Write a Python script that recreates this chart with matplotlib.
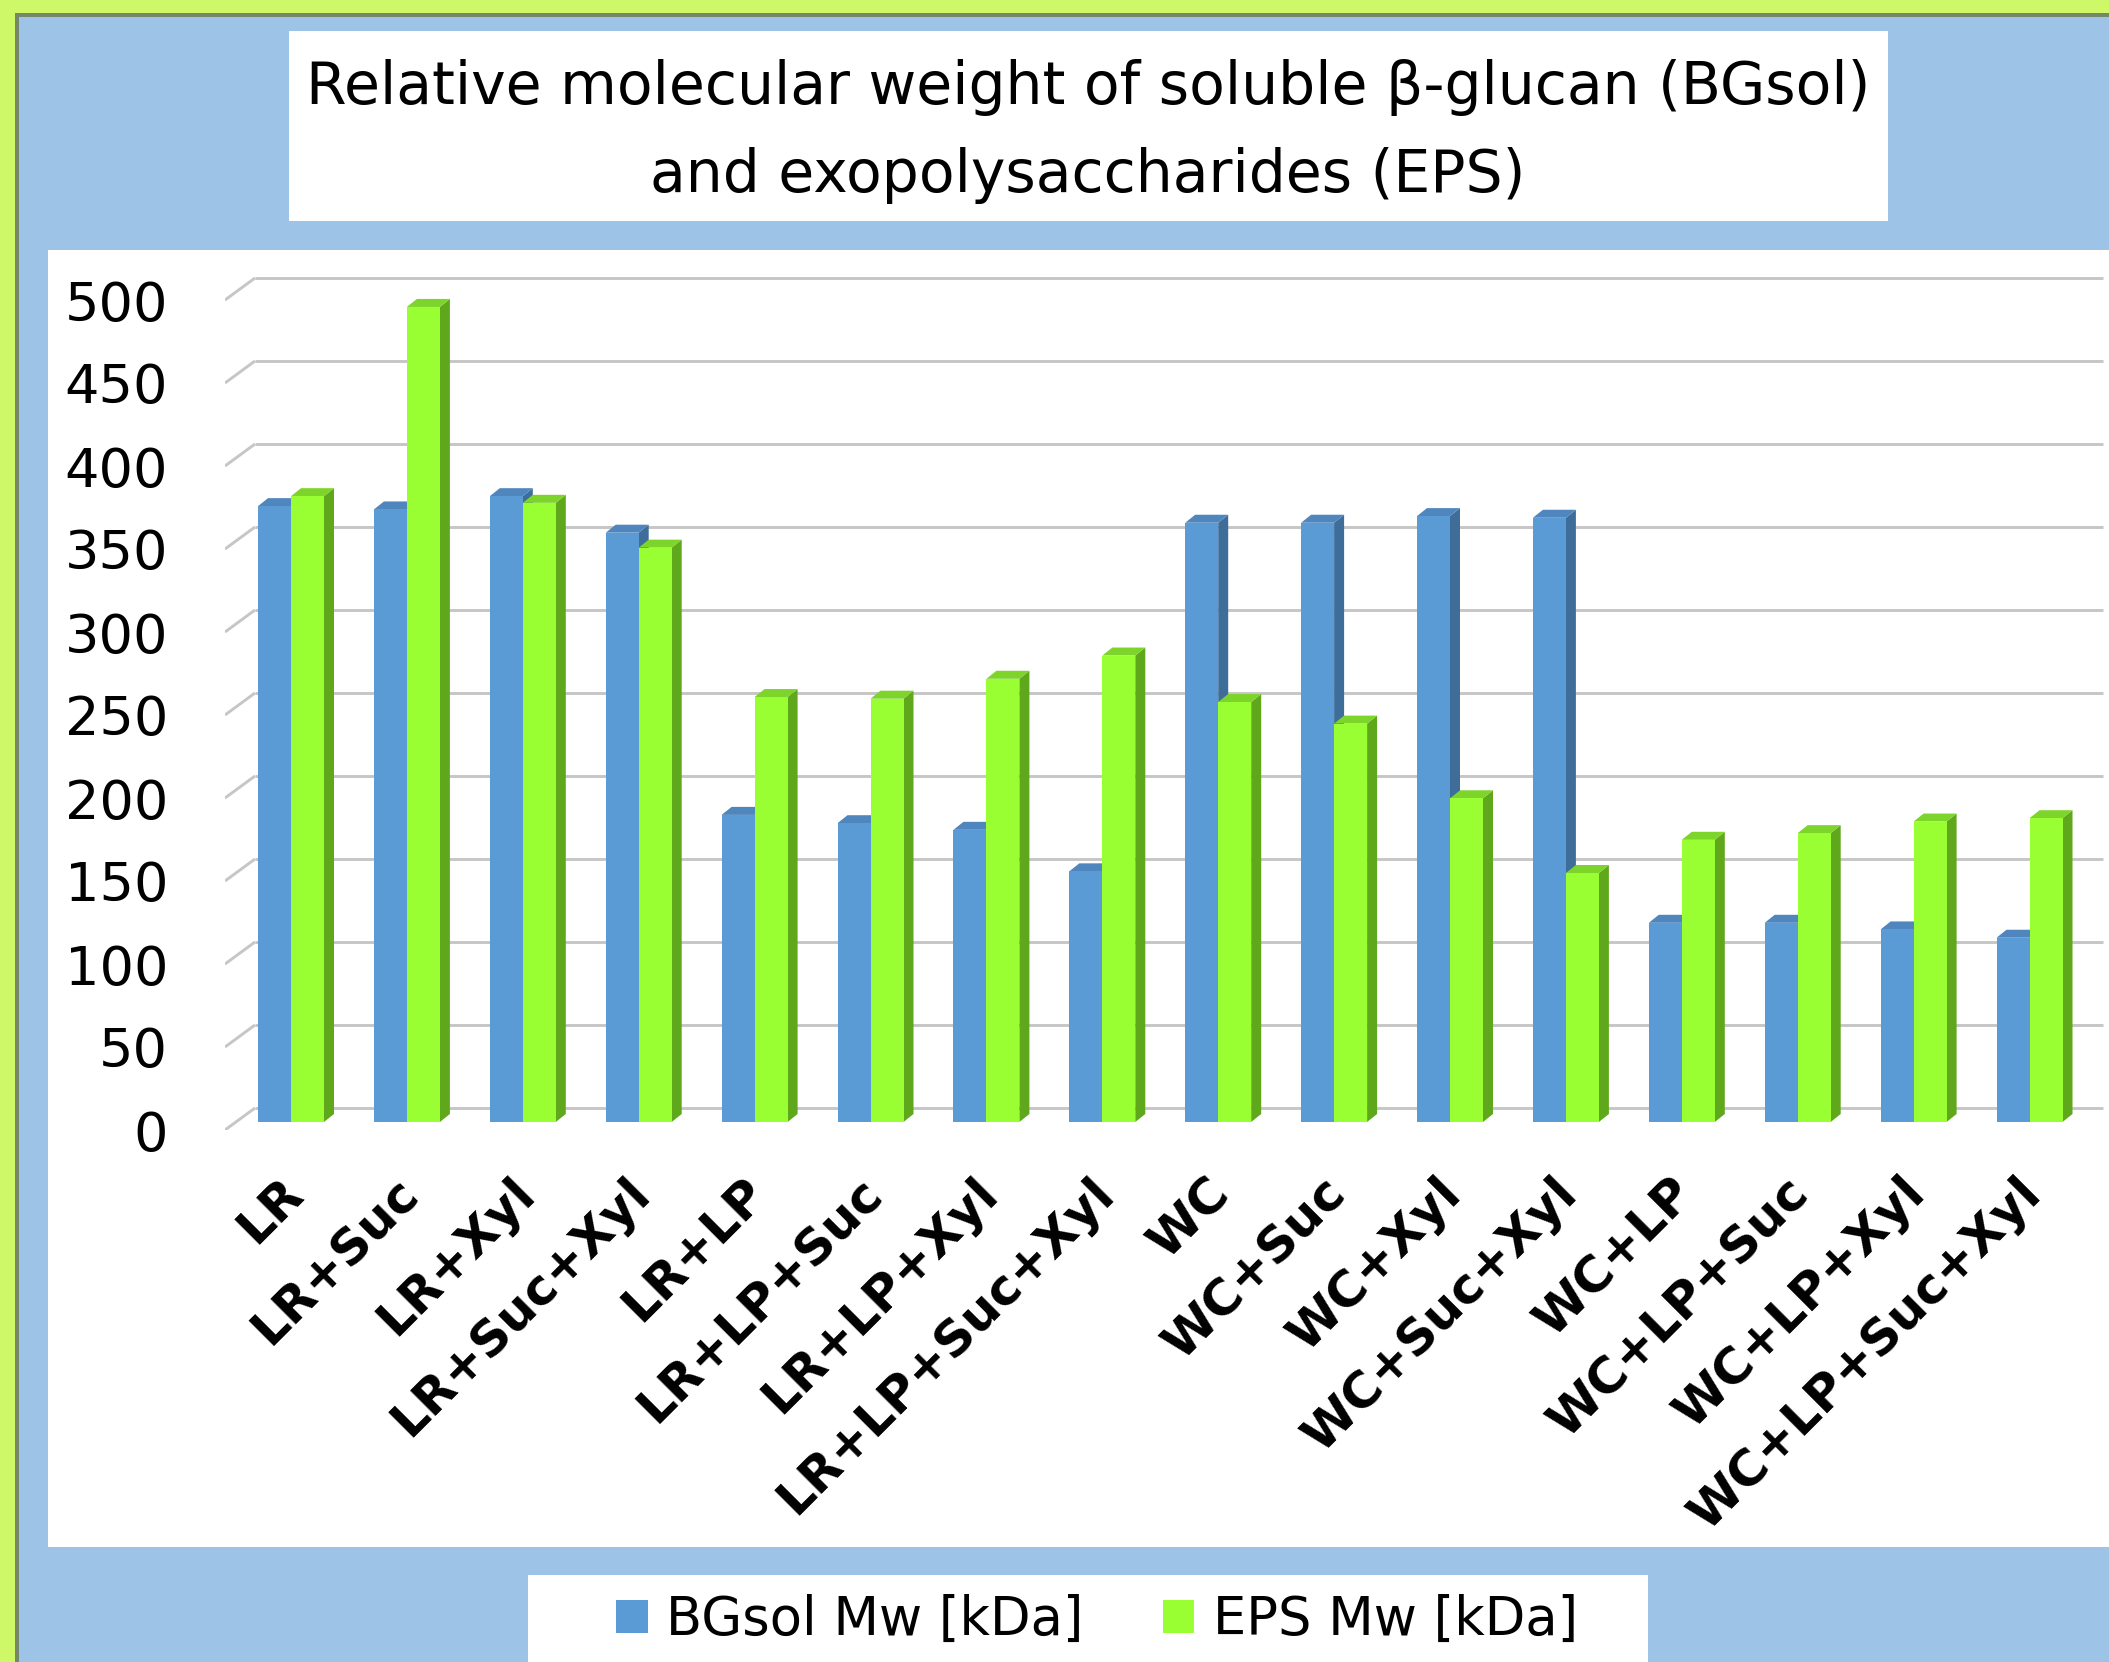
import numpy as np
import matplotlib
matplotlib.use("Agg")
import matplotlib.pyplot as plt
from matplotlib.patches import Rectangle, Polygon
import matplotlib.transforms as mtransforms

# ---- data -------------------------------------------------------------
categories = ['LR', 'LR+Suc', 'LR+Xyl', 'LR+Suc+Xyl', 'LR+LP', 'LR+LP+Suc',
              'LR+LP+Xyl', 'LR+LP+Suc+Xyl', 'WC', 'WC+Suc', 'WC+Xyl',
              'WC+Suc+Xyl', 'WC+LP', 'WC+LP+Suc', 'WC+LP+Xyl', 'WC+LP+Suc+Xyl']
bgsol_mw = [371, 369, 377, 355, 185, 180, 176, 151,
            361, 361, 365, 364, 120, 120, 116, 111]
eps_mw = [377, 491, 373, 346, 256, 255, 267, 281,
          253, 240, 195, 150, 170, 174, 181, 183]
series_labels = ['BGsol Mw [kDa]', 'EPS Mw [kDa]']
y_ticks = list(range(0, 501, 50))
title_lines = ['Relative molecular weight of soluble \u03b2-glucan (BGsol)',
               'and exopolysaccharides (EPS)']

# ---- page geometry (pixels, origin top-left) ---------------------------
W, H, DPI = 2109, 1662, 100
plt.rcParams['font.family'] = ['DejaVu Sans']

BG_BLUE = '#9DC3E6'
FRAME_GREEN = '#CFF868'
BLUE_FRONT, BLUE_SIDE, BLUE_TOP = '#5B9BD5', '#3E6D99', '#4F86BE'
GREEN_FRONT, GREEN_SIDE, GREEN_TOP = '#99FF33', '#5FA81C', '#7DD42A'
GRID = '#C6C6C6'

fig = plt.figure(figsize=(W / DPI, H / DPI), dpi=DPI)
fig.patch.set_facecolor(BG_BLUE)


def fx(px):
    return px / W


def fy(py):
    return 1 - py / H


def fig_rect(x0, y0, x1, y1, color, z=0):
    fig.add_artist(Rectangle((fx(x0), fy(y1)), fx(x1) - fx(x0), fy(y0) - fy(y1),
                             transform=fig.transFigure, facecolor=color,
                             edgecolor='none', zorder=z))


# slide frame: green band with a dark rule on the top and left edges
fig_rect(0, 0, W, 13, FRAME_GREEN)
fig_rect(0, 0, 15, H, FRAME_GREEN)
fig_rect(15, 13, W, 17, '#76866A')
fig_rect(15, 13, 19, H, '#76866A')

# title box
fig_rect(289, 31, 1888, 221, 'white')
fig.text(fx(1088), fy(88), title_lines[0], ha='center', va='center',
         fontsize=42, color='black')
fig.text(fx(1088), fy(176), title_lines[1], ha='center', va='center',
         fontsize=42, color='black')

# plot area and legend boxes
fig_rect(48, 250, W, 1547, 'white')
fig_rect(528, 1575, 1648, H, 'white')

# ---- axes ---------------------------------------------------------------
AX_L, AX_R, AX_T, AX_B = 225, 2105, 262, 1130
X0_PX, STEP_PX = 291.0, 115.9          # first category centre, category pitch
ZERO_PX, PX_PER_UNIT = 1122.0, 1.66    # bar base and value scale

ax = fig.add_axes([fx(AX_L), fy(AX_B), fx(AX_R) - fx(AX_L), fy(AX_T) - fy(AX_B)])
ax.set_facecolor('none')
for s in ax.spines.values():
    s.set_visible(False)
ax.set_xlim((AX_L - X0_PX) / STEP_PX, (AX_R - X0_PX) / STEP_PX)
ax.set_ylim((ZERO_PX - AX_B) / PX_PER_UNIT, (ZERO_PX - AX_T) / PX_PER_UNIT)


def ux(px):
    return px / STEP_PX


def uy(px):
    return px / PX_PER_UNIT


# 3-D wall gridlines: back line plus short slanted floor edge
x_left = ax.get_xlim()[0]
back_dx, back_dy = ux(30), uy(14)
front_dy = uy(-8)
grid_right = (2103 - X0_PX) / STEP_PX
for t in y_ticks:
    ax.plot([x_left + back_dx, grid_right], [t + back_dy, t + back_dy],
            color=GRID, lw=2.1, solid_capstyle='butt', zorder=1)
    ax.plot([x_left, x_left + back_dx], [t + front_dy, t + back_dy],
            color=GRID, lw=2.1, solid_capstyle='butt', zorder=1)

# ---- bars ----------------------------------------------------------------
x = np.arange(len(categories))
bw = ux(33)
blue = ax.bar(x - bw / 2, bgsol_mw, bw, color=BLUE_FRONT, label=series_labels[0],
              zorder=3, linewidth=0)
green = ax.bar(x + bw / 2, eps_mw, bw, color=GREEN_FRONT, label=series_labels[1],
               zorder=5, linewidth=0)

ddx, ddy = ux(10), uy(8)


def add_depth(container, side_col, top_col, z):
    for r in container:
        x0, w, h = r.get_x(), r.get_width(), r.get_height()
        side = Polygon([(x0 + w, 0), (x0 + w + ddx, ddy), (x0 + w + ddx, h + ddy),
                        (x0 + w, h)], closed=True, facecolor=side_col,
                       edgecolor='none', zorder=z)
        top = Polygon([(x0, h), (x0 + w, h), (x0 + w + ddx, h + ddy),
                       (x0 + ddx, h + ddy)], closed=True, facecolor=top_col,
                      edgecolor='none', zorder=z)
        ax.add_patch(side)
        ax.add_patch(top)


add_depth(blue, BLUE_SIDE, BLUE_TOP, 2.9)
add_depth(green, GREEN_SIDE, GREEN_TOP, 4.9)

# ---- ticks ---------------------------------------------------------------
ax.set_yticks(y_ticks, labels=[str(t) for t in y_ticks])
ax.tick_params(axis='y', length=0, pad=41, labelsize=39, labelcolor='black')
shift_y = mtransforms.ScaledTranslation(0, -8 / DPI, fig.dpi_scale_trans)
for lbl in ax.get_yticklabels():
    lbl.set_transform(lbl.get_transform() + shift_y)

ax.set_xticks(x, labels=categories, rotation=45, ha='right', va='center',
              rotation_mode='anchor', fontweight='bold')
ax.tick_params(axis='x', length=0, pad=40, labelsize=36, labelcolor='black')
shift_x = mtransforms.ScaledTranslation(4 / DPI, 0, fig.dpi_scale_trans)
for lbl in ax.get_xticklabels():
    lbl.set_transform(lbl.get_transform() + shift_x)

# ---- legend --------------------------------------------------------------
fig.legend(handles=[blue, green], labels=series_labels, ncol=2, frameon=False,
           loc='center', bbox_to_anchor=(fx(1097), fy(1620)), fontsize=38,
           handlelength=0.6, handleheight=0.6, handletextpad=0.35,
           columnspacing=1.5, borderpad=0)

fig.savefig('out.png', dpi=DPI, facecolor=fig.get_facecolor())
